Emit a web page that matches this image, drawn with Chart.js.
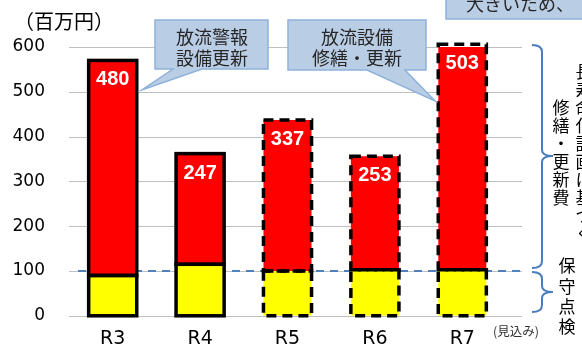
<!DOCTYPE html>
<html lang="ja">
<head>
<meta charset="utf-8">
<title>放流設備 修繕・更新費</title>
<script src="https://cdn.jsdelivr.net/npm/chart.js@4.4.1/dist/chart.umd.min.js"></script>
<style>
  body { margin: 0; background: #fff; }
  #wrap { width: 582px; height: 350px; }
</style>
</head>
<body>
<div id="wrap"><canvas id="costChart" width="582" height="350"></canvas></div>
<script>
// ---------------- DATA -----------------------------
const years = ["R3", "R4", "R5", "R6", "R7"];
const inspection = [90, 115, 100, 103, 103]; // 保守点検
const renewal = [480, 247, 337, 253, 503];   // 修繕・更新費
const yTicks = [0, 100, 200, 300, 400, 500, 600];
const baseLevel = 100;  // 保守点検の目安ライン
const dashedFrom = 2;   // R5以降は計画値なので点線枠

const JP = "'Noto Sans CJK JP', sans-serif";
Chart.defaults.font.family = "'DejaVu Sans', sans-serif";
Chart.defaults.color = "#000";

// ---------------- HELPERS -----------------------------
function callout(ctx, box, tail, lines, cx, ys) {
  const [l, t, r, b] = box;
  ctx.beginPath();
  ctx.moveTo(l, t);
  ctx.lineTo(r, t);
  ctx.lineTo(r, b);
  if (tail) {
    ctx.lineTo(tail[1], b);
    ctx.lineTo(tail[2], tail[3]);
    ctx.lineTo(tail[0], b);
  }
  ctx.lineTo(l, b);
  ctx.closePath();
  ctx.fillStyle = "#b9cde5";
  ctx.fill();
  ctx.strokeStyle = "#8eb1db";
  ctx.lineWidth = 1.5;
  ctx.stroke();
  ctx.fillStyle = "#262626";
  ctx.font = "18px " + JP;
  ctx.textBaseline = "middle";
  lines.forEach((s, i) => ctx.fillText(s, cx, ys[i]));
}

function brace(ctx, x, top, mid, bottom) {
  ctx.beginPath();
  ctx.moveTo(x - 10, top);
  ctx.quadraticCurveTo(x, top, x, top + 7);
  ctx.lineTo(x, mid - 6);
  ctx.quadraticCurveTo(x, mid, x + 11, mid);
  ctx.quadraticCurveTo(x, mid, x, mid + 6);
  ctx.lineTo(x, bottom - 7);
  ctx.quadraticCurveTo(x, bottom, x - 10, bottom);
  ctx.stroke();
}

function column(ctx, text, x, y0, step) {
  [...text].forEach((c, i) => ctx.fillText(c, x, y0 + i * step));
}

// ---------------- PLUGIN -----------------------------
const decorations = {
  id: "decorations",
  beforeDatasetsDraw(chart) {
    const { ctx, chartArea: a, scales: { y } } = chart;
    ctx.save();
    // grid lines run a little past the last bar
    ctx.strokeStyle = "#bfbfbf";
    ctx.lineWidth = 1;
    y.ticks.forEach((t) => {
      const py = Math.round(y.getPixelForValue(t.value)) + 0.5;
      ctx.beginPath();
      ctx.moveTo(a.left, py);
      ctx.lineTo(a.right + 16, py);
      ctx.stroke();
    });
    // blue dashed reference line
    ctx.strokeStyle = "#4f81bd";
    ctx.lineWidth = 2;
    ctx.setLineDash([8, 6]);
    const by = y.getPixelForValue(baseLevel);
    ctx.beginPath();
    ctx.moveTo(a.left + 9, by);
    ctx.lineTo(a.right + 16, by);
    ctx.stroke();
    ctx.restore();
  },
  afterDatasetsDraw(chart) {
    const { ctx } = chart;
    ctx.save();
    ctx.strokeStyle = "#000";
    ctx.lineWidth = 3.5;
    chart.data.datasets.forEach((ds, di) => {
      chart.getDatasetMeta(di).data.forEach((bar, i) => {
        const { x, y, base, width } = bar.getProps(["x", "y", "base", "width"], true);
        ctx.setLineDash(i >= dashedFrom ? [10, 6] : []);
        ctx.strokeRect(x - width / 2, y, width, base - y);
      });
    });
    // values inside the red part
    ctx.setLineDash([]);
    ctx.fillStyle = "#fff";
    ctx.font = "bold 20px 'Liberation Sans', sans-serif";
    ctx.textAlign = "center";
    ctx.textBaseline = "middle";
    chart.getDatasetMeta(1).data.forEach((bar, i) => {
      ctx.fillText(String(renewal[i]), bar.x, bar.y + 19.5);
    });
    ctx.restore();
  },
  afterDraw(chart) {
    const { ctx } = chart;
    ctx.save();

    // unit
    ctx.fillStyle = "#000";
    ctx.font = "20px " + JP;
    ctx.textBaseline = "middle";
    ctx.fillText("（百万円）", 14, 21);

    // callouts
    ctx.textAlign = "center";
    callout(ctx, [155, 20, 268, 69], [173, 202, 142, 90], ["放流警報", "設備更新"], 212, [37, 58]);
    callout(ctx, [288, 20, 426, 70], [367, 405, 435, 101], ["放流設備", "修繕・更新"], 357, [37, 58]);
    ctx.textAlign = "left";
    callout(ctx, [446, -20, 600, 19], null, ["大きいため、"], 466, [4]);

    // braces on the right
    ctx.strokeStyle = "#4a7ebb";
    ctx.lineWidth = 2;
    brace(ctx, 542, 45, 156, 268);
    brace(ctx, 542, 272, 292, 312);

    ctx.fillStyle = "#000";
    ctx.textAlign = "center";
    ctx.textBaseline = "middle";
    ctx.font = "17px " + JP;
    column(ctx, "長寿命化計画に基づく", 584, 72, 18);
    column(ctx, "修繕・更新費", 561, 108, 18);
    column(ctx, "保守点検", 567, 266, 20.3);

    ctx.fillStyle = "#333";
    ctx.font = "12.5px " + JP;
    ctx.fillText("(見込み)", 516, 331);
    ctx.restore();
  },
};

// ---------------- CHART -----------------------------
const barChartData = {
  labels: years,
  datasets: [
    { label: "保守点検", data: inspection, backgroundColor: "#ffff00" },
    { label: "修繕・更新費", data: renewal, backgroundColor: "#ff0000" },
  ],
};

const barChartConfig = {
  type: "bar",
  data: barChartData,
  options: {
    responsive: false,
    animation: false,
    layout: { padding: { top: 47, right: 76, bottom: 0, left: 0 } },
    datasets: {
      bar: { barPercentage: 0.55, categoryPercentage: 1, borderWidth: 0 },
    },
    plugins: {
      legend: { display: false },
      tooltip: { enabled: false },
    },
    scales: {
      x: {
        stacked: true,
        grid: { display: false, drawTicks: false },
        border: { display: false },
        ticks: { font: { size: 19 }, padding: 12 },
        afterFit(s) { s.height = 31; },
      },
      y: {
        stacked: true,
        min: 0,
        max: 600,
        grid: { display: false, drawTicks: false },
        border: { display: false },
        ticks: { font: { size: 17 }, padding: 24 },
        afterBuildTicks(s) { s.ticks = yTicks.map((v) => ({ value: v })); },
        afterFit(s) { s.width = 69; },
      },
    },
  },
  plugins: [decorations],
};

const costChart = new Chart(document.getElementById("costChart"), barChartConfig);
</script>
</body>
</html>
